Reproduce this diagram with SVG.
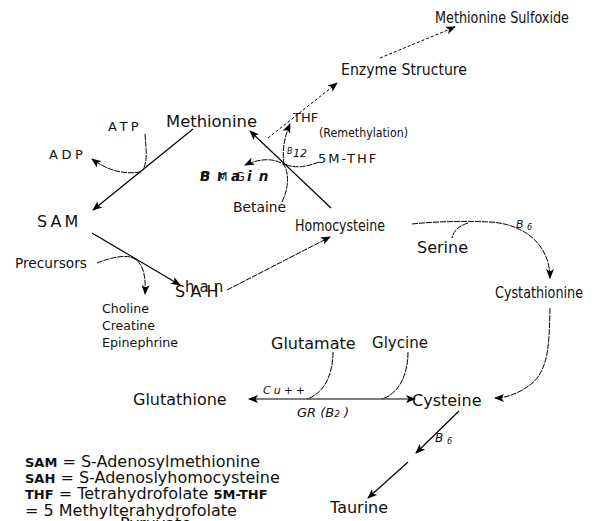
<svg xmlns="http://www.w3.org/2000/svg" width="597" height="521" viewBox="0 0 597 521">
<defs>
<marker id="ah" markerWidth="10" markerHeight="8" refX="9" refY="4" orient="auto-start-reverse" markerUnits="userSpaceOnUse"><path d="M0,0 L10,4 L0,8 L2.5,4 Z" fill="#000"/></marker>
</defs>
<style>
text{font-family:"DejaVu Sans",Verdana,sans-serif;fill:#111}
.f16{font-size:16px}
.f13{font-size:13px}
.f12{font-size:13px}
.cd{font-size:15px}
.it{font-style:italic}
.bd{font-weight:bold}
.ln{fill:none;stroke:#000;stroke-width:1.2}
.cv{fill:none;stroke:#000;stroke-width:1;stroke-dasharray:6 1}
.ds{fill:none;stroke:#000;stroke-width:1;stroke-dasharray:3 2}
</style>
<rect width="597" height="521" fill="#fff"/>
<g id="connectors">
<line class="ln" x1="193" y1="129" x2="93" y2="210" marker-end="url(#ah)"/>
<path class="cv" d="M145,134 C146,150 148,160 143,170"/>
<path class="cv" d="M141,172 Q115,176 92,159" marker-end="url(#ah)"/>
<line class="ln" x1="92" y1="233" x2="180" y2="285" marker-end="url(#ah)"/>
<path class="cv" d="M97,263 C112,257 127,254 135,259 C144,265 146,278 145,294" marker-end="url(#ah)"/>
<line class="cv" x1="227" y1="290" x2="330" y2="237" marker-end="url(#ah)"/>
<line class="ln" x1="331" y1="208" x2="250" y2="131" marker-end="url(#ah)"/>
<path class="cv" d="M284,165 C282,150 284,138 290,124" marker-end="url(#ah)"/>
<path class="cv" d="M319,162 C305,168 292,168 285,164"/>
<path class="cv" d="M282,202 C289,188 289,173 284,165 C276,158 260,158 245,165" marker-end="url(#ah)"/>
<line class="ds" x1="268" y1="138" x2="337" y2="83" marker-end="url(#ah)"/>
<line class="ds" x1="380" y1="58" x2="455" y2="27" marker-end="url(#ah)"/>
<path class="cv" d="M412,224 C440,221 470,221 490,222 C525,224 550,245 550,278" marker-end="url(#ah)"/>
<path class="cv" d="M468,223 C458,226 453,232 452,238"/>
<path class="cv" d="M550,308 C549,340 550,370 530,385 C518,394 505,398 495,398" marker-end="url(#ah)"/>
<line class="ln" x1="249" y1="399" x2="415" y2="399" marker-start="url(#ah)" marker-end="url(#ah)"/>
<path class="cv" d="M333,352 C333,380 320,395 307,399"/>
<path class="cv" d="M408,352 C408,380 395,395 382,399"/>
<line class="ln" x1="459" y1="411" x2="416" y2="453" marker-end="url(#ah)"/>
<line class="ln" x1="408" y1="462" x2="368" y2="498" marker-end="url(#ah)"/>
</g>
<g id="methionine-sulfoxide"><text x="435" y="23" class="cd" textLength="134" lengthAdjust="spacingAndGlyphs">Methionine Sulfoxide</text></g>
<g id="enzyme-structure"><text x="341" y="75" class="cd" textLength="126" lengthAdjust="spacingAndGlyphs">Enzyme Structure</text></g>
<g id="methionine"><text x="166" y="127" class="f16" textLength="91" lengthAdjust="spacingAndGlyphs">Methionine</text></g>
<g id="atp"><text x="108" y="131" class="f13" letter-spacing="3.5">ATP</text></g>
<g id="adp"><text x="49" y="159" class="f13" letter-spacing="3.5">ADP</text></g>
<g id="sam"><text x="37" y="227" class="f16" letter-spacing="3">SAM</text></g>
<g id="thf"><text x="293" y="122" class="f13">THF</text></g>
<g id="remethylation"><text x="319" y="137" style="font-size:13px" textLength="89" lengthAdjust="spacingAndGlyphs">(Remethylation)</text></g>
<g id="b12"><text x="287" y="154" class="it" style="font-size:8px">B</text><text x="293" y="157" class="it" style="font-size:11px">12</text></g>
<g id="5m-thf"><text x="318" y="163" class="f13" letter-spacing="2">5M-THF</text></g>
<g id="dmg-brain"><text x="200" y="181" style="font-size:12px" letter-spacing="8">DMG</text><text x="200" y="181" class="it bd" style="font-size:13.5px" letter-spacing="7">Brain</text></g>
<g id="betaine"><text x="233" y="212" style="font-size:14px" textLength="53" lengthAdjust="spacingAndGlyphs">Betaine</text></g>
<g id="homocysteine"><text x="295" y="231" class="cd" textLength="90" lengthAdjust="spacingAndGlyphs">Homocysteine</text></g>
<g id="serine"><text x="417" y="253" class="f16">Serine</text></g>
<g id="b6a"><text x="516" y="228" class="it" style="font-size:11px">B</text><text x="527" y="230" class="it" style="font-size:8px">6</text></g>
<g id="cystathionine"><text x="495" y="298" class="cd" textLength="88" lengthAdjust="spacingAndGlyphs">Cystathionine</text></g>
<g id="precursors"><text x="15" y="268" style="font-size:14px" textLength="72" lengthAdjust="spacingAndGlyphs">Precursors</text></g>
<g id="sah"><text x="175" y="297" class="f16" letter-spacing="5">SAH</text><text x="185" y="292" style="font-size:15px" letter-spacing="5">han</text></g>
<g id="products"><text x="102" y="313" class="f12" textLength="47" lengthAdjust="spacingAndGlyphs">Choline</text><text x="102" y="330" class="f12" textLength="53" lengthAdjust="spacingAndGlyphs">Creatine</text><text x="102" y="347" class="f12" textLength="76" lengthAdjust="spacingAndGlyphs">Epinephrine</text></g>
<g id="glutamate"><text x="271" y="349" class="f16">Glutamate</text></g>
<g id="glycine"><text x="372" y="348" class="f16" textLength="56" lengthAdjust="spacingAndGlyphs">Glycine</text></g>
<g id="glutathione"><text x="133" y="405" class="f16">Glutathione</text></g>
<g id="cysteine"><text x="412" y="406" class="f16">Cysteine</text></g>
<g id="cu"><text x="263" y="394" class="it" style="font-size:11px" letter-spacing="3">Cu++</text></g>
<g id="gr"><text x="297" y="417" class="it" style="font-size:13px">GR (B<tspan style="font-size:9px">2</tspan> )</text></g>
<g id="b6b"><text x="435" y="442" class="it" style="font-size:12px">B</text><text x="447" y="444" class="it" style="font-size:8px">6</text></g>
<g id="taurine"><text x="330" y="513" class="f16">Taurine</text></g>
<g id="pyruvate"><text x="120" y="529" class="f16">Pyruvate</text></g>
<g id="legend">
<text x="25" y="467" class="f16"><tspan class="bd" style="font-size:13px">SAM</tspan> = S-Adenosylmethionine</text>
<text x="25" y="483" class="f16"><tspan class="bd" style="font-size:13px">SAH</tspan> = S-Adenoslyhomocysteine</text>
<text x="25" y="499" class="f16"><tspan class="bd" style="font-size:13px">THF</tspan> = Tetrahydrofolate <tspan class="bd" style="font-size:13px">5M-THF</tspan></text>
<text x="25" y="516" class="f16">= 5 Methylterahydrofolate</text>
</g>
</svg>
